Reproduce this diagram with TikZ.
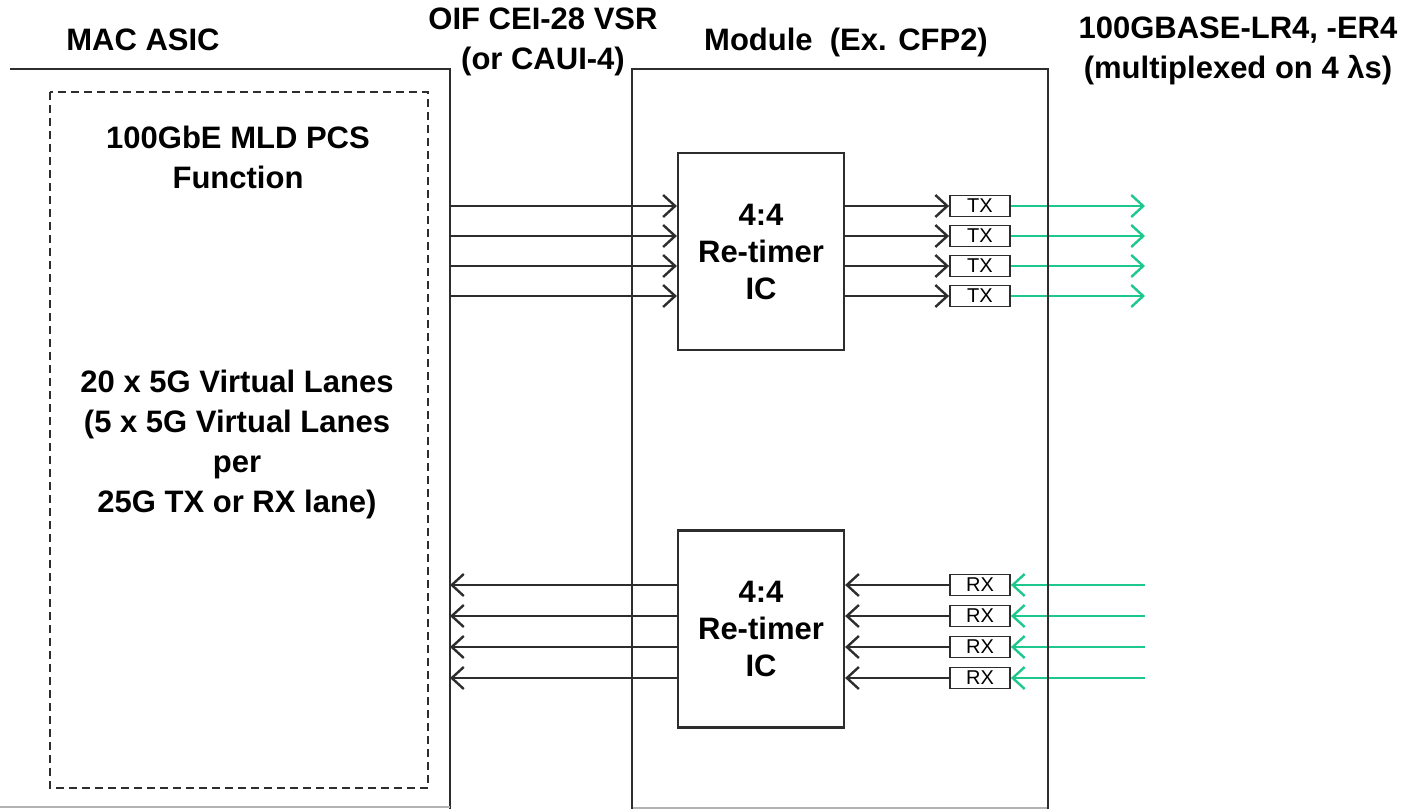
\documentclass[tikz,border=0pt]{standalone}
\usepackage{fontspec}
\setmainfont{Liberation Sans}
\usetikzlibrary{arrows.meta}
\definecolor{lanegreen}{RGB}{30,200,140}
\definecolor{inkgray}{RGB}{45,45,45}
\tikzset{
  heading/.style={font=\fontsize{31}{40}\selectfont\bfseries,align=center,inner sep=0pt},
  retimer/.style={draw=inkgray,line width=2.2pt,minimum width=166pt,minimum height=197pt,font=\fontsize{31}{37}\selectfont\bfseries,align=center},
  lanebox/.style={draw=inkgray,line width=1.8pt,minimum width=60pt,minimum height=21pt,inner sep=0pt,font=\fontsize{20}{20}\selectfont},
  lane/.style={draw=inkgray,line width=2.4pt,-{Straight Barb[length=12pt,width=22pt]}},
  optic/.style={lane,draw=lanegreen}
}

\begin{document}
\begin{tikzpicture}[x=1pt,y=-1pt]
  \useasboundingbox (0,0) rectangle (1409,809);
  % outlines of ASIC, module and PCS function
  \draw[inkgray,line width=2.2pt] (10,69) -- (450,69) -- (450,809);
  \draw[black!30,line width=1.5pt] (0,807) -- (450,807);
  \draw[black!30,line width=1.5pt] (632,808) -- (1048,808);
  \draw[inkgray,line width=2.2pt,dash pattern=on 8pt off 5pt] (50,92) rectangle (428,788);

  \node[heading] (mac) at (143,40) {MAC ASIC};
  \node[heading] (oif) at (543,42) {OIF CEI-28 VSR\\(or CAUI-4)};
  \node[heading] (module) at (846,42) {Module\ \ (Ex. CFP2)};
  \node[heading] (optics) at (1238,51) {100GBASE-LR4, -ER4\\(multiplexed on 4 λs)};
  \node[heading] (pcs) at (238,157) {100GbE MLD PCS\\Function};
  \node[heading] (vlanes) at (237,444) {20 x 5G Virtual Lanes\\(5 x 5G Virtual Lanes\\per\\25G TX or RX lane)};

  \node[retimer] (rtx) at (761,251.5) {4:4\\Re-timer\\IC};
  \node[retimer] (rrx) at (761,629) {4:4\\Re-timer\\IC};

  % transmit lanes
  \foreach \i in {1,...,4} {
    \pgfmathsetmacro\ty{176+30*\i}
    \coordinate (in\i) at (450,\ty);
    \node[lanebox] (tx\i) at (980,\ty) {TX};
    \coordinate (out\i) at (1145,\ty);
    \draw[lane] (in\i) -- (in\i -| rtx.west);
    \draw[lane] (in\i -| rtx.east) -- (tx\i.west);
    \draw[optic] (tx\i.east) -- (out\i);
  }
  % receive lanes
  \foreach \i in {1,...,4} {
    \pgfmathsetmacro\ry{554+31*\i}
    \coordinate (rin\i) at (1145,\ry);
    \node[lanebox] (rx\i) at (980,\ry) {RX};
    \coordinate (rout\i) at (450,\ry);
    \draw[optic] (rin\i) -- (rx\i.east);
    \draw[lane] (rx\i.west) -- (rx\i -| rrx.east);
    \draw[lane] (rout\i -| rrx.west) -- (rout\i);
  }
  \draw[inkgray,line width=2.2pt] (632,809) -- (632,69) -- (1048,69) -- (1048,809);
\end{tikzpicture}
\end{document}
